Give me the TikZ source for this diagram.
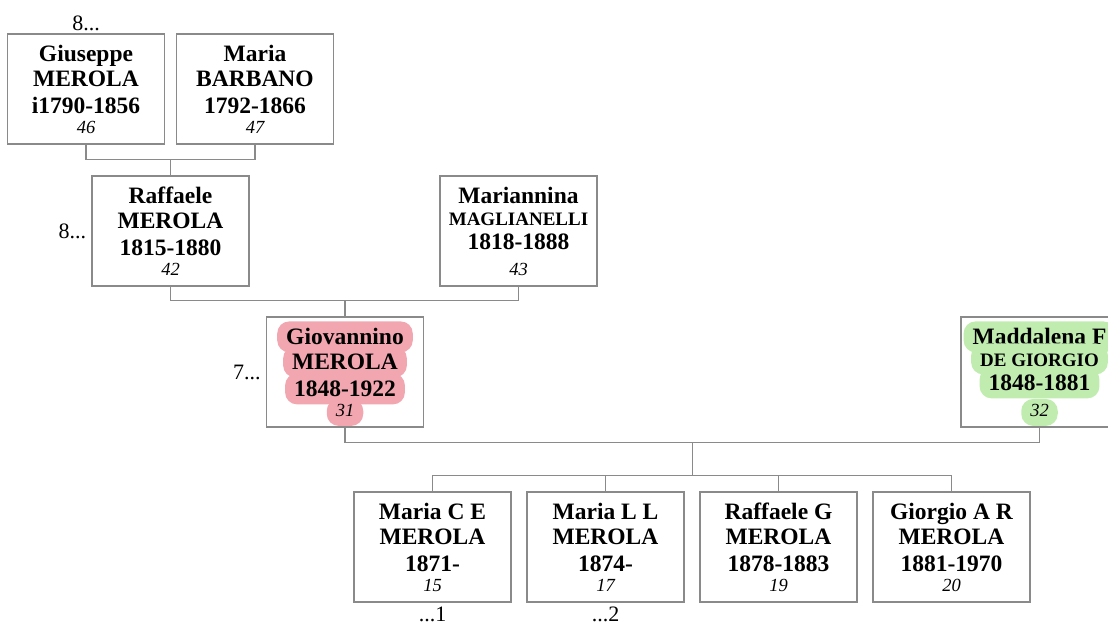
\documentclass[tikz,border=0pt]{standalone}
\usepackage{fontspec}
\setmainfont{Liberation Serif}
\usetikzlibrary{positioning,calc}
\definecolor{famline}{RGB}{138,138,138}
\definecolor{fampink}{RGB}{242,166,176}
\definecolor{famgreen}{RGB}{193,236,176}
\tikzset{
  fam box/.style={draw=famline,line width=1.2pt,minimum width=157,minimum height=110,inner sep=0pt},
  fam mark/.style={},
  fam name/.style={fam mark,font=\bfseries\fontsize{23.5}{26}\selectfont,
    text height=22pt,text depth=6pt,inner xsep=9pt,inner ysep=1.5pt,rounded corners=12pt},
  fam num/.style={fam name,font=\itshape\fontsize{18.5}{20}\selectfont,text height=16pt,text depth=8pt},
  fam edge/.style={famline,line width=1.2pt},
  fam more/.style={font=\fontsize{22}{24}\selectfont,inner sep=1pt}
}
\newcommand{\smallsurname}[1]{{\fontsize{19}{22}\selectfont #1}}
% line offsets below the box top (changed in a scope for a small surname)
\newcommand{\famb}{45.5}
\newcommand{\famc}{72.5}
% box, three bold lines and the italic number
\newcommand{\famperson}[6]{%
  \node[fam box] (#1) at (#2) {};
  \node[fam name] (#1-a) at ([yshift=-20.5pt]#1.north) {#3};
  \node[fam name] (#1-b) at ([yshift=-\famb pt]#1.north) {#4};
  \node[fam name] (#1-c) at ([yshift=-\famc pt]#1.north) {#5};
  \node[fam num] (#1-d) at ([yshift=-96pt]#1.north) {#6};
}

\begin{document}
\begin{tikzpicture}[x=1pt,y=-1pt]
  \clip (0,0) rectangle (1108,627);
  % grandparents
  \famperson{giuseppe}{86,89}{Giuseppe}{MEROLA}{i1790-1856}{46}
  \famperson{maria}{255,89}{Maria}{BARBANO}{1792-1866}{47}
  % parents
  \famperson{raffaele}{170.5,231}{Raffaele}{MEROLA}{1815-1880}{42}
  \begin{scope}
    \renewcommand{\famb}{42.5}\renewcommand{\famc}{66.5}
    \famperson{mariannina}{518.5,231}{Mariannina}{\smallsurname{MAGLIANELLI}}{1818-1888}{43}
  \end{scope}
  % couple
  \begin{scope}[fam mark/.style={fill=fampink}]
    \famperson{giovannino}{345,372}{Giovannino}{MEROLA}{1848-1922}{31}
  \end{scope}
  \begin{scope}[fam mark/.style={fill=famgreen}]
    \renewcommand{\famb}{42.5}\renewcommand{\famc}{66.5}
    \famperson{maddalena}{1039.5,372}{Maddalena F}{\smallsurname{DE GIORGIO}}{1848-1881}{32}
  \end{scope}
  % children
  \famperson{mariace}{432.5,547}{Maria C E}{MEROLA}{1871-}{15}
  \famperson{marial}{605.5,547}{Maria L L}{MEROLA}{1874-}{17}
  \famperson{raffaeleg}{778.5,547}{Raffaele G}{MEROLA}{1878-1883}{19}
  \famperson{giorgioa}{951.5,547}{Giorgio A R}{MEROLA}{1881-1970}{20}

  \node[fam more,above=1pt of giuseppe] (giuseppe-up) {8...};
  \node[fam more,left=4pt of raffaele] (raffaele-up) {8...};
  \node[fam more,left=4pt of giovannino] (giovannino-up) {7...};
  \node[fam more,below=3pt of mariace] (mariace-down) {...1};
  \node[fam more,below=3pt of marial] (marial-down) {...2};

  \draw[fam edge] (giuseppe.south) -- ++(0,15) coordinate (gm) -| (maria.south);
  \draw[fam edge] (raffaele.north) -- (raffaele.north |- gm);
  \draw[fam edge] (raffaele.south) -- ++(0,14) coordinate (rm) -| (mariannina.south);
  \draw[fam edge] (giovannino.north) -- (giovannino.north |- rm);
  \draw[fam edge] (giovannino.south) -- ++(0,15) coordinate (gd) -| (maddalena.south);
  \draw[fam edge] (mariace.north) -- ++(0,-16) coordinate (kb) -| (giorgioa.north);
  \draw[fam edge] (marial.north) -- (marial.north |- kb);
  \draw[fam edge] (raffaeleg.north) -- (raffaeleg.north |- kb);
  \coordinate (gdmid) at ($(giovannino.south)!0.5!(maddalena.south)$);
  \draw[fam edge] (gdmid |- gd) -- (gdmid |- kb);
\end{tikzpicture}
\end{document}
